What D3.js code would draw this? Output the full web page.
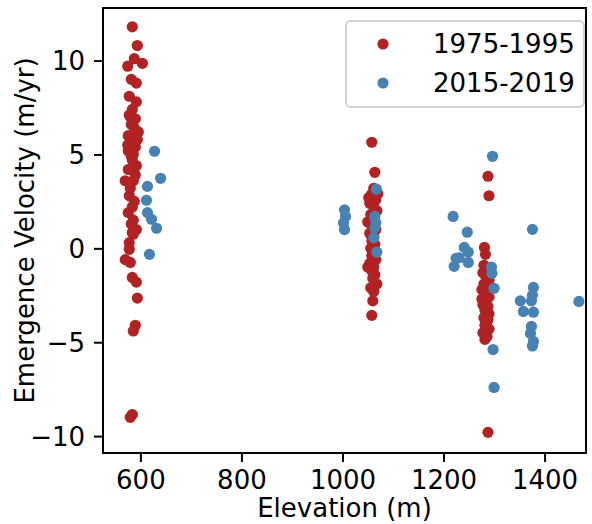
<!DOCTYPE html>
<html lang="en">
<head>
    <meta charset="UTF-8">
    <title>Emergence velocity vs elevation</title>
    <script src="https://d3js.org/d3.v7.min.js"></script>
    <style>
        body {
            margin: 0;
            padding: 0;
            background: #fff;
        }
        text {
            font-family: "DejaVu Sans", sans-serif;
            fill: #000;
        }
        .axis text {
            font-size: 26px;
        }
        .axis line {
            stroke: #000;
            stroke-width: 2px;
        }
    </style>
</head>
<body>
    <svg width="592" height="524"></svg>
    <script>
        // 1975-1995 points (elevation m, emergence velocity m/yr)
        const elevOld = [
            584, 594, 588, 604, 575, 582, 592, 578, 592, 584, 578, 590, 582, 596, 576,
            586, 580, 590, 576, 586, 584, 592, 576, 570, 586, 580, 578, 584, 576, 586,
            582, 584, 586, 578, 578, 570, 580, 584, 592, 594, 590, 586, 584, 580,
            588, 580, 594, 582, 590, 575, 588, 592,
            1058, 1064, 1062, 1058, 1066, 1054, 1062, 1068, 1056, 1062, 1050, 1058, 1066,
            1054, 1062, 1058, 1064, 1056, 1062, 1058, 1066, 1054, 1062, 1058, 1064, 1060,
            1050, 1068, 1056, 1062, 1060, 1058, 1070, 1052,
            1288, 1290, 1281, 1283, 1280, 1286, 1278, 1284, 1290, 1280, 1286, 1276, 1282,
            1290, 1284, 1278, 1288, 1282, 1290, 1280, 1286, 1282, 1290, 1278, 1286, 1282,
            1276, 1292, 1288, 1288
        ];
        const velOld = [
            11.8, 10.8, 10.1, 9.85, 9.7, 9.0, 8.8, 8.1, 7.8, 7.4, 7.1, 6.9, 6.6, 6.2, 6.0,
            5.9, 5.6, 5.4, 5.2, 5.0, 4.7, 4.4, 4.2, 3.6, 3.6, 3.2, 2.8, 2.2, 1.9, 1.5,
            1.3, 0.85, 0.75, 0.3, -0.05, -0.6, -0.75, -1.55, -1.8, -2.65, -4.1, -4.4, -8.85, -9.0,
            6.4, 7.0, 5.8, 4.9, 3.9, 5.5, 2.5, 1.0,
            5.65, 4.05, 3.2, 2.9, 2.6, 2.4, 2.2, 2.0, 1.8, 1.6, 1.4, 1.2, 1.0,
            0.8, 0.6, 0.4, 0.2, 0.0, -0.2, -0.4, -0.6, -0.8, -1.0, -1.2, -1.4, -1.6,
            -1.0, -1.9, -2.1, -2.3, -2.8, -3.57, 2.9, 2.7,
            3.84, 2.8, 0.05, -0.32, -0.9, -1.1, -1.3, -1.5, -1.7, -1.9, -2.1, -2.2, -2.4,
            -2.6, -2.8, -3.0, -3.1, -3.3, -3.5, -3.7, -3.9, -4.1, -4.3, -4.5, -4.7, -4.85,
            -2.7, -1.3, -3.8, -9.8
        ];

        // 2015-2019 points
        const elevNew = [
            628, 640, 614, 612, 614, 622, 632, 618,
            1004, 1006, 1002, 1004, 1067, 1064, 1066, 1064, 1062, 1068,
            1297, 1219, 1247, 1241, 1249, 1225, 1221, 1249, 1231, 1295, 1296, 1300, 1298, 1300,
            1376, 1378, 1376, 1374, 1352, 1358, 1378, 1374, 1372, 1378, 1376, 1468
        ];
        const velNew = [
            5.17, 3.73, 3.3, 2.56, 1.9, 1.55, 1.07, -0.32,
            2.05, 1.7, 1.35, 1.0, 3.15, 1.7, 1.37, 1.1, 0.57, -0.2,
            4.9, 1.7, 0.86, 0.05, -0.2, -0.53, -0.96, -0.75, -0.5, -1.0, -1.33, -2.13, -5.39, -7.41,
            1.01, -2.08, -2.5, -2.8, -2.8, -3.36, -3.4, -4.16, -4.53, -4.96, -5.2, -2.83
        ];

        const xTicks = [600, 800, 1000, 1200, 1400];
        const yTicks = [-10, -5, 0, 5, 10];
        const seriesNames = ["1975-1995", "2015-2019"];
        const seriesColors = ["#b22222", "#4682b4"];

        const svg = d3.select("svg");
        const margin = { left: 103, right: 6, top: 8, bottom: 71 };
        const width = 592 - margin.left - margin.right;
        const height = 524 - margin.top - margin.bottom;

        const x = d3.scaleLinear().domain([526, 1482]).range([0, width]);
        const y = d3.scaleLinear().domain([-10.9, 12.8]).range([height, 0]);

        const g = svg.append("g")
            .attr("transform", `translate(${margin.left},${margin.top})`);

        // points: older series first, newer drawn on top
        const series = [
            elevOld.map((e, i) => ({ e: e, v: velOld[i] })),
            elevNew.map((e, i) => ({ e: e, v: velNew[i] }))
        ];
        series.forEach((pts, k) => {
            g.append("g")
                .selectAll("circle")
                .data(pts)
                .join("circle")
                .attr("cx", d => x(d.e))
                .attr("cy", d => y(d.v))
                .attr("r", 5.6)
                .attr("fill", seriesColors[k]);
        });

        // axes
        g.append("g")
            .attr("class", "axis")
            .attr("transform", `translate(0,${height})`)
            .call(d3.axisBottom(x).tickValues(xTicks).tickFormat(d3.format("d"))
                .tickSize(9).tickPadding(9))
            .call(a => a.select(".domain").remove());

        g.append("g")
            .attr("class", "axis")
            .call(d3.axisLeft(y).tickValues(yTicks).tickFormat(d3.format("d"))
                .tickSize(9).tickPadding(9))
            .call(a => a.select(".domain").remove())
            .call(a => a.selectAll("text").attr("dy", "0.36em"));

        // frame
        g.append("rect")
            .attr("width", width)
            .attr("height", height)
            .attr("fill", "none")
            .attr("stroke", "#000")
            .attr("stroke-width", 2);

        // axis titles
        svg.append("text")
            .attr("x", margin.left + width / 2)
            .attr("y", 517)
            .attr("text-anchor", "middle")
            .style("font-size", "26px")
            .text("Elevation (m)");

        svg.append("text")
            .attr("transform", `translate(34,${margin.top + height / 2}) rotate(-90)`)
            .attr("text-anchor", "middle")
            .style("font-size", "26px")
            .text("Emergence Velocity (m/yr)");

        // legend
        const legend = svg.append("g").attr("transform", "translate(346,21)");
        legend.append("rect")
            .attr("width", 238)
            .attr("height", 86)
            .attr("rx", 5)
            .attr("fill", "#fff")
            .attr("fill-opacity", 0.8)
            .attr("stroke", "#d0d0d0")
            .attr("stroke-width", 2);

        seriesNames.forEach((name, i) => {
            const row = legend.append("g").attr("transform", `translate(0,${23 + i * 39})`);
            row.append("circle")
                .attr("cx", 37)
                .attr("cy", 0)
                .attr("r", 5.6)
                .attr("fill", seriesColors[i]);
            row.append("text")
                .attr("x", 87)
                .attr("y", 9)
                .style("font-size", "26px")
                .text(name);
        });
    </script>
</body>
</html>
